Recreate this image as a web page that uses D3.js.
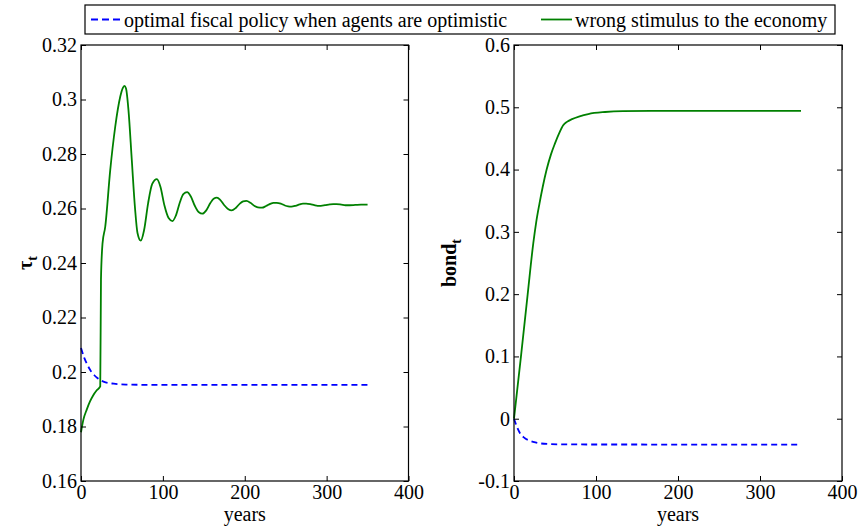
<!DOCTYPE html>
<html><head><meta charset="utf-8">
<script src="https://cdn.jsdelivr.net/npm/d3@7"></script>
</head><body style="margin:0;background:#fff">
<svg id="c" width="864" height="532" font-family="Liberation Serif" style="font-family:'Liberation Serif'"></svg>
<script>
// ---- data ----
const seriesNames = ["optimal fiscal policy when agents are optimistic", "wrong stimulus to the economy"];
const seriesColors = ["#0000ff", "#008000"];
const yearTicks = [0, 100, 200, 300, 400];
const yearTickLabels = ["0", "100", "200", "300", "400"];
const tauTicks = [0.16, 0.18, 0.2, 0.22, 0.24, 0.26, 0.28, 0.3, 0.32];
const tauTickLabels = ["0.16", "0.18", "0.2", "0.22", "0.24", "0.26", "0.28", "0.3", "0.32"];
const bondTicks = [-0.1, 0, 0.1, 0.2, 0.3, 0.4, 0.5, 0.6];
const bondTickLabels = ["-0.1", "0", "0.1", "0.2", "0.3", "0.4", "0.5", "0.6"];

// tau, optimal policy (blue dashed)
const tauOptYears  = [0, 4, 8, 12, 16, 20, 25, 30, 40, 55, 80, 350];
const tauOptValues = [0.2088, 0.2052, 0.2025, 0.2004, 0.1989, 0.1978, 0.1968, 0.1962, 0.1957, 0.1954, 0.1953, 0.1953];

// tau, wrong stimulus (green)
const tauWrongYears = [0, 3, 7, 11, 15, 19, 23.5, 24.4, 26.3, 29.6, 35.7, 41.8, 47.9, 51, 53, 55, 58, 62, 66, 69, 73,
  77, 82, 87, 92.7, 97, 102, 107, 111.7, 116, 121, 125, 129.6, 134, 139, 144, 148.3, 153, 158, 162, 166, 170, 175,
  180, 184, 189, 194, 198, 202, 207, 212, 216, 221, 226, 231, 235, 239, 244, 249, 253, 257, 262, 267, 271, 275,
  280, 285, 289, 293, 298, 304, 308, 312, 318, 323, 328, 335, 342, 350];
const tauWrongValues = [0.1779, 0.1826, 0.1862, 0.1892, 0.1915, 0.1932, 0.1947, 0.2340, 0.2472, 0.2533, 0.2741, 0.2900, 0.3010, 0.3042, 0.3050, 0.3040, 0.2960, 0.2780, 0.2600, 0.2510, 0.2482,
  0.2520, 0.2620, 0.2690, 0.2708, 0.2680, 0.2610, 0.2565, 0.2554, 0.2575, 0.2625, 0.2653, 0.2660, 0.2645, 0.2610, 0.2586, 0.2581, 0.2593, 0.2620, 0.2636, 0.2640, 0.2632, 0.2612,
  0.2597, 0.2593, 0.2602, 0.2618, 0.2626, 0.2628, 0.2621, 0.2609, 0.2604, 0.2603, 0.2609, 0.2617, 0.2621, 0.2621, 0.2618, 0.2611, 0.2608, 0.2607, 0.2610, 0.2615, 0.2618, 0.2618,
  0.2616, 0.2612, 0.2610, 0.2610, 0.2612, 0.2615, 0.2616, 0.2616, 0.2614, 0.2612, 0.2612, 0.2613, 0.2614, 0.2614];

// bond, optimal policy (blue dashed)
const bondOptYears  = [0, 3, 7, 12, 19.5, 26, 32, 45, 60, 100, 350];
const bondOptValues = [0, -0.011, -0.0225, -0.030, -0.0353, -0.038, -0.0396, -0.0408, -0.0412, -0.0414, -0.0415];

// bond, wrong stimulus (green)
const bondWrongYears  = [0, 8.5, 16.7, 23.5, 27, 31, 35, 39.8, 45, 50, 55, 60, 65, 70, 80, 90.6, 111, 133, 180, 350];
const bondWrongValues = [0, 0.1, 0.2, 0.2816, 0.315, 0.345, 0.372, 0.400, 0.424, 0.442, 0.458, 0.471, 0.477, 0.4805, 0.4855, 0.4892, 0.4924, 0.4938, 0.4943, 0.4943];

// ---- drawing ----
const svg = d3.select("#c");
const FS = 20;
const FONT = "Liberation Serif";

function setFont(sel, size, weight) {
  sel.attr("font-family", FONT).attr("font-size", size)
    .style("font-family", FONT).style("font-size", size + "px");
  if (weight) sel.attr("font-weight", weight).style("font-weight", weight);
  return sel;
}

function panel(left, right, top, bottom, yDomain, yTicks, yLabels, seriesList, yLabelFn) {
  const x = d3.scaleLinear().domain([0, 400]).range([left, right]);
  const y = d3.scaleLinear().domain(yDomain).range([bottom, top]);
  const g = svg.append("g");

  const line = d3.line().x(d => x(d[0])).y(d => y(d[1])).curve(d3.curveMonotoneX);
  seriesList.forEach((s, i) => {
    const pts = s.years.map((t, k) => [t, s.values[k]]);
    g.append("path").attr("d", line(pts)).attr("fill", "none")
      .attr("stroke", seriesColors[i]).attr("stroke-width", 1.8)
      .attr("stroke-dasharray", i === 0 ? "6,4" : null);
  });

  const bottomAxis = d3.axisBottom(x).tickValues(yearTicks).tickFormat((d, i) => yearTickLabels[i]).tickSizeInner(-5).tickSizeOuter(0).tickPadding(4);
  const leftAxis = d3.axisLeft(y).tickValues(yTicks).tickFormat((d, i) => yLabels[i]).tickSizeInner(-5).tickSizeOuter(0).tickPadding(4);
  const topAxis = d3.axisTop(x).tickValues(yearTicks).tickFormat("").tickSizeInner(-5).tickSizeOuter(0);
  const rightAxis = d3.axisRight(y).tickValues(yTicks).tickFormat("").tickSizeInner(-5).tickSizeOuter(0);

  const styleAxis = sel => {
    sel.select(".domain").remove();
    setFont(sel, FS);
    sel.selectAll("line").attr("stroke", "#000").attr("stroke-width", 1);
    setFont(sel.selectAll("text"), FS).attr("fill", "#000");
  };
  g.append("g").attr("transform", `translate(0,${bottom})`).call(bottomAxis).call(styleAxis);
  g.append("g").attr("transform", `translate(${left},0)`).call(leftAxis).call(styleAxis);
  g.append("g").attr("transform", `translate(0,${top})`).call(topAxis).call(styleAxis);
  g.append("g").attr("transform", `translate(${right},0)`).call(rightAxis).call(styleAxis);

  g.append("rect").attr("x", left).attr("y", top).attr("width", right - left).attr("height", bottom - top)
    .attr("fill", "none").attr("stroke", "#000").attr("stroke-width", 1.2);

  setFont(g.append("text"), FS).attr("x", (left + right) / 2).attr("y", bottom + 40).attr("text-anchor", "middle")
    .text("years");

  yLabelFn(g, (top + bottom) / 2);
}

function yLabel(g, cx, cy, main) {
  const t = setFont(g.append("text"), FS, "bold").attr("transform", `translate(${cx},${cy}) rotate(-90)`).attr("text-anchor", "middle");
  t.append("tspan").text(main);
  t.append("tspan").attr("font-size", 14).style("font-size", "14px").attr("dy", "0.35em").text("t");
}

panel(81, 408.5, 45, 481, [0.16, 0.32], tauTicks, tauTickLabels,
  [{years: tauOptYears, values: tauOptValues}, {years: tauWrongYears, values: tauWrongValues}],
  (g, cy) => yLabel(g, 32, cy, "τ"));

panel(514, 842, 45, 481, [-0.1, 0.6], bondTicks, bondTickLabels,
  [{years: bondOptYears, values: bondOptValues}, {years: bondWrongYears, values: bondWrongValues}],
  (g, cy) => yLabel(g, 456, cy, "bond"));

// legend
const lg = svg.append("g");
lg.append("rect").attr("x", 85).attr("y", 5).attr("width", 750).attr("height", 29)
  .attr("fill", "#fff").attr("stroke", "#000").attr("stroke-width", 1.2);
const legendItems = [{x0: 91, x1: 122, tx: 124}, {x0: 541, x1: 572, tx: 575}];
legendItems.forEach((it, i) => {
  lg.append("line").attr("x1", it.x0).attr("x2", it.x1).attr("y1", 19.5).attr("y2", 19.5)
    .attr("stroke", seriesColors[i]).attr("stroke-width", 1.8)
    .attr("stroke-dasharray", i === 0 ? "7,4" : null);
  setFont(lg.append("text"), FS).attr("x", it.tx).attr("y", 26.5).text(seriesNames[i]);
});
</script>
</body></html>
